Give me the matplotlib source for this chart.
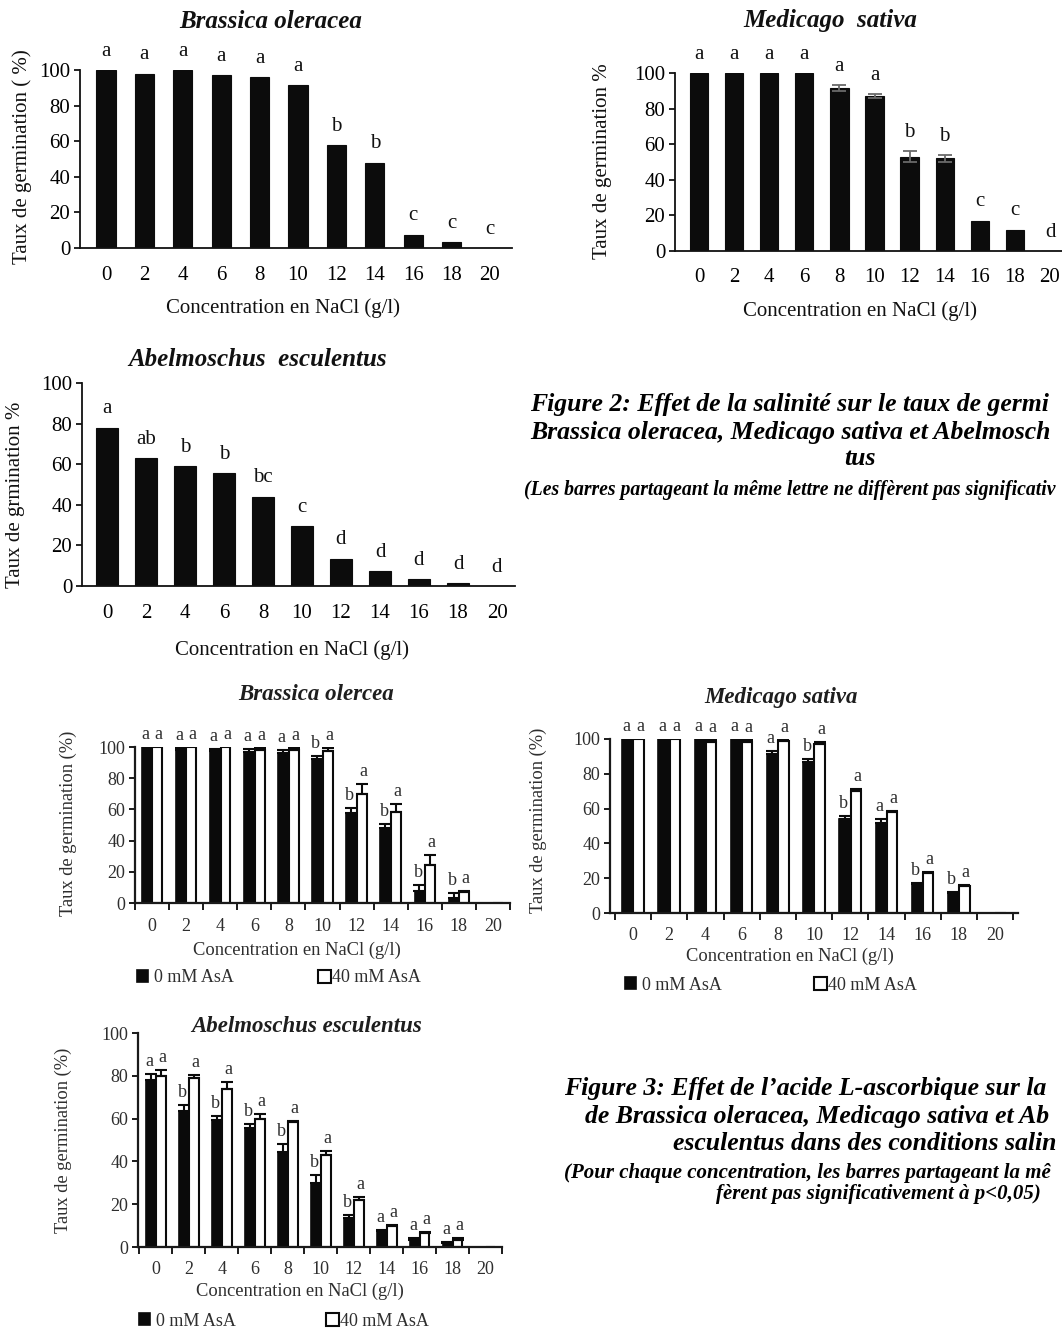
import matplotlib
matplotlib.use('Agg')
import matplotlib.pyplot as plt
import numpy as np

plt.rcParams['font.family'] = ['Liberation Serif', 'DejaVu Serif']

W, H = 1062, 1330

# ---------------- data ----------------
conc_labels = ['0', '2', '4', '6', '8', '10', '12', '14', '16', '18', '20']

# Figure 2 : effect of salinity
bo_rate = [100, 98, 100, 97, 96, 91.5, 58, 48, 7.5, 3.5, 0]
bo_letters = ['a', 'a', 'a', 'a', 'a', 'a', 'b', 'b', 'c', 'c', 'c']

ms_rate = [100, 100, 100, 100, 91.5, 87, 53, 52, 17, 12, 0]
ms_err = [0, 0, 0, 0, 1.5, 1, 3, 2, 0, 0, 0]
ms_letters = ['a', 'a', 'a', 'a', 'a', 'a', 'b', 'b', 'c', 'c', 'd']

ae_rate = [78, 63, 59, 55.5, 44, 29.5, 13.5, 7.5, 3.5, 1.5, 0]
ae_letters = ['a', 'ab', 'b', 'b', 'bc', 'c', 'd', 'd', 'd', 'd', 'd']

# Figure 3 : effect of ascorbic acid (0 mM vs 40 mM AsA)
bo3_ctrl = [100, 98, 97.5, 97, 96, 92, 58, 48, 7.5, 3.5, 0]
bo3_ctrl_err = [0, 1.5, 1.5, 2, 2, 2.5, 3, 2.5, 4, 3, 0]
bo3_asa = [100, 100, 100, 98, 98, 97.5, 70, 58.5, 24.5, 7, 0]
bo3_asa_err = [0, 0, 0, 1.5, 1.5, 2, 6, 5, 6.5, 0.5, 0]
bo3_ctrl_let = ['a', 'a', 'a', 'a', 'a', 'b', 'b', 'b', 'b', 'b', '']
bo3_asa_let = ['a', 'a', 'a', 'a', 'a', 'a', 'a', 'a', 'a', 'a', '']

ms3_ctrl = [100, 100, 100, 100, 91.5, 87, 54, 52, 16.5, 11.5, 0]
ms3_ctrl_err = [0, 0, 0, 0, 1.5, 1.5, 2, 2, 0.5, 0.5, 0]
ms3_asa = [100, 100, 98.5, 98.5, 99, 97, 70, 58, 23, 15.5, 0]
ms3_asa_err = [0, 0, 1, 1, 0.5, 1.5, 1.5, 0.5, 0.5, 0.5, 0]
ms3_ctrl_let = ['a', 'a', 'a', 'a', 'a', 'b', 'b', 'a', 'b', 'b', '']
ms3_asa_let = ['a', 'a', 'a', 'a', 'a', 'a', 'a', 'a', 'a', 'a', '']

ae3_ctrl = [78, 63.5, 59.5, 55.5, 44.5, 30, 13.5, 7.5, 3.5, 2, 0]
ae3_ctrl_err = [3, 3, 1.5, 2, 3.5, 3.5, 1.5, 0.5, 0.5, 0.3, 0]
ae3_asa = [80, 79, 74, 60, 58.5, 43, 22, 10, 6.5, 3.5, 0]
ae3_asa_err = [2.5, 1.5, 3, 2, 0.5, 2, 1.5, 0.5, 0.5, 0.5, 0]
ae3_ctrl_let = ['a', 'b', 'b', 'b', 'b', 'b', 'b', 'a', 'a', 'a', '']
ae3_asa_let = ['a', 'a', 'a', 'a', 'a', 'a', 'a', 'a', 'a', 'a', '']

legend_labels = ['0 mM AsA', '40 mM AsA']
yticks = [0, 20, 40, 60, 80, 100]

# captions (as visible in the cropped reference)
fig2_caption = ['Figure 2: Effet de la salinité sur le taux de germi',
                'Brassica oleracea, Medicago sativa et Abelmosch',
                'tus']
fig2_note = '(Les barres partageant la même lettre ne diffèrent pas significativ'
fig3_caption = ['Figure 3: Effet de l’acide L-ascorbique sur la',
                'de Brassica oleracea, Medicago sativa et Ab',
                'esculentus dans des conditions salin']
fig3_note = ['(Pour chaque concentration, les barres partageant la mê',
             'fèrent pas significativement à p<0,05)']

# ---------------- helpers ----------------
fig = plt.figure(figsize=(W / 100, H / 100), dpi=100)
fig.patch.set_facecolor('white')


def fx(x):
    return x / W


def fy(y):
    return 1 - y / H


def make_ax(xl, xr, y0, y100, c0, sp):
    ax = fig.add_axes([fx(xl), fy(y0), (xr - xl) / W, (y0 - y100) / H])
    ax.set_xlim((xl - c0) / sp, (xr - c0) / sp)
    ax.set_ylim(0, 100)
    ax.spines['top'].set_visible(False)
    ax.spines['right'].set_visible(False)
    ax.patch.set_alpha(0)
    return ax


def style_fig2(ax, pad):
    for s in ('left', 'bottom'):
        ax.spines[s].set_linewidth(1.3)
        ax.spines[s].set_color('#111111')
    ax.set_yticks(yticks)
    ax.tick_params(axis='y', direction='out', length=4, width=1.2, labelsize=15, pad=3)
    ax.set_xticks(np.arange(len(conc_labels)))
    ax.set_xticklabels(conc_labels)
    ax.tick_params(axis='x', length=0, labelsize=15, pad=pad)


def fig2_panel(ax, vals, letters, width, err=None):
    vals = np.asarray(vals, float)
    x = np.arange(len(vals))
    ax.bar(x, vals, width, color='#0c0c0c', edgecolor='#0c0c0c', linewidth=0.8, zorder=2)
    tops = vals.copy()
    if err is not None:
        err = np.asarray(err, float)
        m = err > 0
        ax.errorbar(x[m], vals[m], yerr=err[m], fmt='none', ecolor='#6a6a6a',
                    elinewidth=1.3, capsize=5, capthick=1.3, zorder=3)
        tops = vals + err
    for xi, t, l in zip(x, tops, letters):
        ax.annotate(l, (xi, t), xytext=(0, 13.5), textcoords='offset points',
                    ha='center', va='center', fontsize=15, color='#111111',
                    annotation_clip=False)


TXT3 = '#2e2e2e'


def style_fig3(ax, pad):
    for s in ('left', 'bottom'):
        ax.spines[s].set_linewidth(1.6)
        ax.spines[s].set_color('#1a1a1a')
    ax.set_yticks(yticks)
    ax.tick_params(axis='y', direction='out', length=4, width=1.4, labelsize=13,
                   pad=3, labelcolor=TXT3, color='#1a1a1a')
    ax.set_xticks(np.arange(len(conc_labels)))
    ax.set_xticklabels(conc_labels)
    ax.set_xticks(np.arange(-0.5, len(conc_labels)), minor=True)
    ax.tick_params(axis='x', which='major', length=0, labelsize=13, pad=pad, labelcolor=TXT3)
    ax.tick_params(axis='x', which='minor', direction='out', length=5, width=1.4, color='#1a1a1a')


def fig3_panel(ax, ctrl, cerr, asa, aerr, clet, alet, width=0.29, off=0.155):
    ctrl = np.asarray(ctrl, float)
    asa = np.asarray(asa, float)
    cerr = np.asarray(cerr, float)
    aerr = np.asarray(aerr, float)
    x = np.arange(len(ctrl))
    b0 = ax.bar(x - off, ctrl, width, color='#0a0a0a', edgecolor='#0a0a0a', linewidth=1.2, zorder=2)
    b1 = ax.bar(x + off, asa, width, color='white', edgecolor='#0a0a0a', linewidth=1.5, zorder=2)
    zero = np.zeros_like(cerr)
    m = cerr > 0
    ax.errorbar(x[m] - off, ctrl[m], yerr=[zero[m], cerr[m]], fmt='none', ecolor='#0a0a0a',
                elinewidth=1.5, capsize=4, capthick=1.5, zorder=3)
    m = aerr > 0
    ax.errorbar(x[m] + off, asa[m], yerr=[zero[m], aerr[m]], fmt='none', ecolor='#0a0a0a',
                elinewidth=1.5, capsize=4, capthick=1.5, zorder=3)
    for xi, t, l in zip(x - off, ctrl + cerr, clet):
        if l:
            ax.annotate(l, (xi, t), xytext=(-1, 9), textcoords='offset points',
                        ha='center', va='center', fontsize=13, color=TXT3,
                        annotation_clip=False)
    for xi, t, l in zip(x + off, asa + aerr, alet):
        if l:
            ax.annotate(l, (xi, t), xytext=(1, 9), textcoords='offset points',
                        ha='center', va='center', fontsize=13, color=TXT3,
                        annotation_clip=False)
    return b0, b1


def place_labels(ax, xlabel, xlx, xly, ylabel, ylx, yly, size, color):
    ax.set_xlabel(xlabel, fontsize=size, color=color, va='center')
    ax.xaxis.set_label_coords(fx(xlx), fy(xly), transform=fig.transFigure)
    ax.set_ylabel(ylabel, fontsize=size, color=color, va='center')
    ax.yaxis.set_label_coords(fx(ylx), fy(yly), transform=fig.transFigure)


def add_legend(b0, b1, x0, x1, y):
    fig.legend(handles=[b0], labels=[legend_labels[0]], loc='center left',
               bbox_to_anchor=(fx(x0), fy(y)), frameon=False, fontsize=13,
               handlelength=0.6, handleheight=0.6, handletextpad=0.35,
               borderpad=0, borderaxespad=0, labelcolor=TXT3)
    fig.legend(handles=[b1], labels=[legend_labels[1]], loc='center left',
               bbox_to_anchor=(fx(x1), fy(y)), frameon=False, fontsize=13,
               handlelength=0.7, handleheight=0.7, handletextpad=0.1,
               borderpad=0, borderaxespad=0, labelcolor=TXT3)


T2 = dict(ha='center', va='center', fontsize=18, fontweight='bold',
          fontstyle='italic', color='#111111')
T3 = dict(ha='center', va='center', fontsize=16.5, fontweight='bold',
          fontstyle='italic', color='#1e1e1e')

# ---------------- Figure 2 panels ----------------
ax1 = make_ax(80, 512, 248, 70, 106, 38.4)
style_fig2(ax1, pad=13)
fig2_panel(ax1, bo_rate, bo_letters, 0.5)
place_labels(ax1, 'Concentration en NaCl (g/l)', 283, 308,
             'Taux de germination ( %)', 22, 157, 15, '#111111')
fig.text(fx(271), fy(21), 'Brassica oleracea', **T2)

ax2 = make_ax(675, 1080, 251, 73, 699, 35.1)
style_fig2(ax2, pad=12)
fig2_panel(ax2, ms_rate, ms_letters, 0.52, err=ms_err)
place_labels(ax2, 'Concentration en NaCl (g/l)', 860, 311,
             'Taux de germination %', 602, 161, 15, '#111111')
fig.text(fx(830), fy(21), 'Medicago  sativa', **T2)

ax3 = make_ax(82, 515, 586, 383, 107, 39)
style_fig2(ax3, pad=13)
fig2_panel(ax3, ae_rate, ae_letters, 0.55)
place_labels(ax3, 'Concentration en NaCl (g/l)', 292, 650,
             'Taux de grmination %', 16, 495, 15, '#111111')
fig.text(fx(258), fy(359), 'Abelmoschus  esculentus', **T2)

# Figure 2 caption
CAP = 18.5
cap = dict(fontweight='bold', fontstyle='italic', color='black', va='center')
fig.text(fx(530), fy(405), fig2_caption[0], ha='left', fontsize=CAP, **cap)
fig.text(fx(530), fy(432), fig2_caption[1], ha='left', fontsize=CAP, **cap)
fig.text(fx(860), fy(459), fig2_caption[2], ha='center', fontsize=CAP, **cap)
fig.text(fx(524), fy(490), fig2_note, ha='left', fontsize=14.2, **cap)

# ---------------- Figure 3 panels ----------------
ax4 = make_ax(135, 510, 903, 747, 152, 34.1)
style_fig3(ax4, pad=11)
b0, b1 = fig3_panel(ax4, bo3_ctrl, bo3_ctrl_err, bo3_asa, bo3_asa_err, bo3_ctrl_let, bo3_asa_let)
place_labels(ax4, 'Concentration en NaCl (g/l)', 297, 950,
             'Taux de germination (%)', 68, 823, 13.3, TXT3)
fig.text(fx(316), fy(694), 'Brassica olercea', **T3)
add_legend(b0, b1, 137, 318, 978)

ax5 = make_ax(610, 1018, 913, 739, 633, 36.2)
style_fig3(ax5, pad=10)
b0, b1 = fig3_panel(ax5, ms3_ctrl, ms3_ctrl_err, ms3_asa, ms3_asa_err, ms3_ctrl_let, ms3_asa_let)
place_labels(ax5, 'Concentration en NaCl (g/l)', 790, 956,
             'Taux de germination (%)', 538, 820, 13.3, TXT3)
fig.text(fx(781), fy(697), 'Medicago sativa', **T3)
add_legend(b0, b1, 625, 814, 985)

ax6 = make_ax(138, 502, 1247, 1033, 156, 33.1)
style_fig3(ax6, pad=10)
b0, b1 = fig3_panel(ax6, ae3_ctrl, ae3_ctrl_err, ae3_asa, ae3_asa_err, ae3_ctrl_let, ae3_asa_let)
place_labels(ax6, 'Concentration en NaCl (g/l)', 300, 1291,
             'Taux de germination (%)', 63, 1140, 13.3, TXT3)
fig.text(fx(307), fy(1027), 'Abelmoschus esculentus', **T3)
add_legend(b0, b1, 139, 326, 1321)

# Figure 3 caption
fig.text(fx(564), fy(1089), fig3_caption[0], ha='left', fontsize=CAP, **cap)
fig.text(fx(585), fy(1116), fig3_caption[1], ha='left', fontsize=CAP, **cap)
fig.text(fx(673), fy(1143), fig3_caption[2], ha='left', fontsize=CAP, **cap)
fig.text(fx(564), fy(1173), fig3_note[0], ha='left', fontsize=15, **cap)
fig.text(fx(716), fy(1194), fig3_note[1], ha='left', fontsize=15, **cap)

fig.savefig('out.png', dpi=100, facecolor='white')
